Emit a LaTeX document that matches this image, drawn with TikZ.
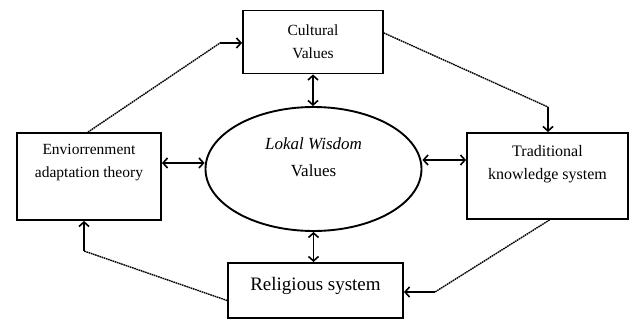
\documentclass[tikz,border=0pt]{standalone}
\usepackage{fontspec}
\setmainfont{Liberation Serif}
\usetikzlibrary{arrows.meta,shapes.geometric}
\begin{document}
\begin{tikzpicture}[x=1pt,y=-1pt,
  box/.style={draw,line width=1.9pt,rectangle,inner sep=0pt},
  txt/.style={align=center,inner sep=0pt,font=\fontsize{15.5}{23}\selectfont},
  biarrow/.style={line width=1.6pt,{Straight Barb[length=4.5pt,width=10pt]}-{Straight Barb[length=4.5pt,width=10pt]}},
  flow/.style={line width=1.4pt,dash pattern=on 1.6pt off 0.7pt,black},
  tip/.style={line width=1.6pt,-{Straight Barb[length=4.5pt,width=10pt]}}]
\useasboundingbox (0,0) rectangle (630,320);
% boxes
\node[box,minimum width=140pt,minimum height=63pt] (cult) at (313,42) {};
\node[txt] (cultt) at (313,42) {Cultural\\Values};
\node[box,minimum width=144pt,minimum height=87pt] (env) at (89,176.5) {};
\node[txt] (envt) at (89,163) {Enviorrenment\\adaptation theory};
\node[box,minimum width=161pt,minimum height=86pt] (trad) at (547.5,176) {};
\node[txt,font=\fontsize{16}{23}\selectfont] (tradt) at (547.5,164.5) {Traditional\\knowledge system};
\node[box,minimum width=175pt,minimum height=55pt] (rel) at (315.5,290.5) {};
\node[txt,font=\fontsize{19}{23}\selectfont] (relt) at (315.5,286) {Religious system};
\node[draw,line width=1.9pt,ellipse,minimum width=216pt,minimum height=124pt,inner sep=0pt] (ell) at (313.5,169) {};
\node[txt,font=\fontsize{17}{27}\selectfont] (ellt) at (313.5,157) {\textit{Lokal Wisdom}\\Values};
% bidirectional arrows
\draw[biarrow] (cult.south) -- (cult.south |- ell.north);
\draw[biarrow] (ell.south) -- (ell.south |- rel.north);
\draw[biarrow] ([yshift=13.5pt]env.east) -- ([yshift=13.5pt]env.east -| ell.west);
\draw[biarrow] ([yshift=16pt]trad.west -| ell.east) -- ([yshift=16pt]trad.west);
% cycle connectors
\coordinate (c1) at (220,43);
\coordinate (c2) at (548,107);
\coordinate (c3) at (435,292);
\coordinate (c4) at (84,251);
\draw[flow] ([xshift=-1pt]env.north) -- (c1);
\draw[tip] (c1) -- (c1 -| cult.west);
\draw[flow] ([yshift=9pt]cult.east) -- (c2);
\draw[tip] (c2) -- (c2 |- trad.north);
\draw[flow] ([xshift=2pt]trad.south) -- (c3);
\draw[tip] (c3) -- (c3 -| rel.east);
\draw[flow] ([yshift=-10pt]rel.west) -- (c4);
\draw[tip] (c4) -- (c4 |- env.south);
\end{tikzpicture}
\end{document}
